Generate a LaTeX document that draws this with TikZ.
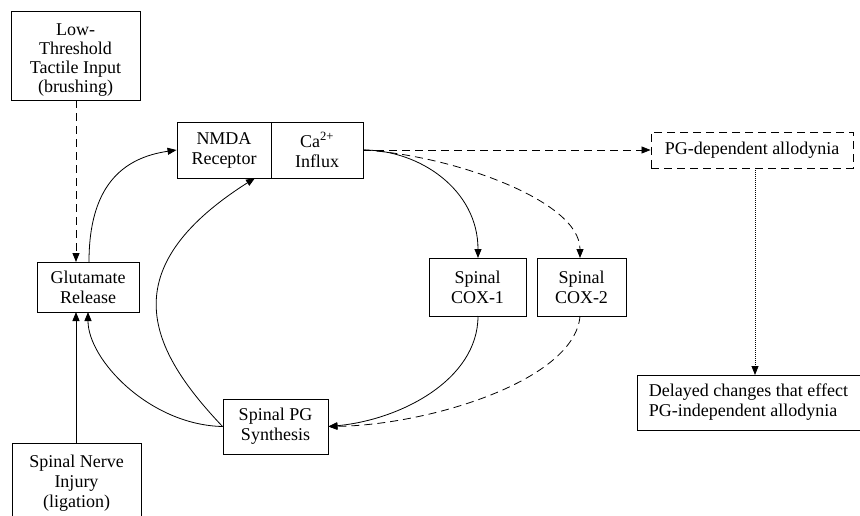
\documentclass[tikz,border=0pt]{standalone}
\usepackage{fontspec}
\setmainfont{Liberation Serif}
\usetikzlibrary{arrows.meta}
\begin{document}
\begin{tikzpicture}[x=1pt,y=-1pt,
  box/.style={draw,line width=0.9pt,inner sep=0pt,align=center,font=\fontsize{18}{20}\selectfont},
  txt/.style={inner sep=0pt,align=center,font=\fontsize{18}{19}\selectfont},
  conn/.style={line width=0.8pt,-{Triangle[length=9pt,width=7pt]}},
  dsh/.style={dash pattern=on 8pt off 5pt},
  dtd/.style={dash pattern=on 1pt off 1pt}]
\useasboundingbox (0,0) rectangle (860,516);
\node[box,minimum width=129pt,minimum height=89pt] (lowth) at (75.5,55.5) {};
\node[txt] (lowthtext) at (75.5,60) {Low-\\Threshold\\Tactile Input\\(brushing)};
\node[box,minimum width=102pt,minimum height=50pt] (glut) at (88,287) {Glutamate\\Release};
\node[box,minimum width=94pt,minimum height=56pt] (nmda) at (224,150) {NMDA\\Receptor};
\node[box,minimum width=92pt,minimum height=56pt] (ca) at (317,150) {Ca\textsuperscript{2+}\\Influx};
\node[box,dsh,minimum width=202pt,minimum height=36pt] (pgdep) at (752,150) {PG-dependent allodynia};
\node[box,minimum width=97pt,minimum height=58pt] (cox1) at (477.5,287) {Spinal\\COX-1};
\node[box,minimum width=89pt,minimum height=58pt] (cox2) at (581.5,287) {Spinal\\COX-2};
\node[box,minimum width=105pt,minimum height=55pt] (pgsyn) at (275.5,426.5) {Spinal PG\\Synthesis};
\node[box,align=left,minimum width=223pt,minimum height=55pt] (delay) at (748.5,402.5) {Delayed changes that effect\\PG-independent allodynia};
\node[box,minimum width=129pt,minimum height=80pt] (injury) at (76.5,483) {Spinal Nerve\\Injury\\(ligation)};
% coordinates on borders
\coordinate (glutTL) at (76,262);
\coordinate (glutTR) at (89,262);
\coordinate (glutBL) at (76,312);
\coordinate (glutBR) at (88,312);
\coordinate (nmdaB) at (255,178);
\coordinate (cox1T) at (478,258);
\coordinate (cox2T) at (580,258);
\coordinate (cox1B) at (478,316);
\coordinate (cox2B) at (580,316);
\coordinate (pgdepB) at (755,168);
\coordinate (delayT) at (755,375);
% connectors
\draw[conn,dsh] (lowth.south -| glutTL) -- (glutTL);
\draw[conn] (injury.north -| glutBL) -- (glutBL);
\draw[conn] (glutTR) .. controls +(0,-75) and +(-55,8) .. (nmda.west);
\draw[conn] (pgsyn.west) .. controls (150,350) and (110,270) .. (nmdaB);
\draw[conn] (pgsyn.west) .. controls (150,425) and (88,360) .. (glutBR);
\draw[conn] (ca.east) .. controls (420,150) and (478,190) .. (cox1T);
\draw[conn,dsh] (ca.east) .. controls (450,155) and (580,200) .. (cox2T);
\draw[conn,dsh] (ca.east) -- (pgdep.west);
\draw[conn,dtd] (pgdepB) -- (delayT);
\draw[conn] (cox1B) .. controls (478,380) and (400,420) .. (pgsyn.east);
\draw[conn,dsh] (cox2B) .. controls (575,380) and (430,425) .. (pgsyn.east);
\end{tikzpicture}
\end{document}
